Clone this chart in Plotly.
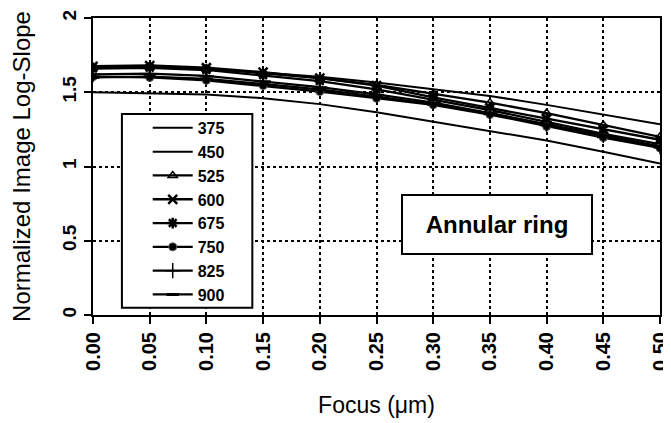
import plotly.graph_objects as go

focus = [0.00, 0.05, 0.10, 0.15, 0.20, 0.25, 0.30, 0.35, 0.40, 0.45, 0.50]
tick_labels = ["0.00", "0.05", "0.10", "0.15", "0.20", "0.25", "0.30", "0.35", "0.40", "0.45", "0.50"]

s375 = [1.50, 1.495, 1.485, 1.46, 1.42, 1.365, 1.30, 1.24, 1.175, 1.10, 1.02]
s450 = [1.665, 1.67, 1.66, 1.635, 1.605, 1.565, 1.52, 1.475, 1.415, 1.35, 1.285]
s525 = [1.67, 1.675, 1.66, 1.63, 1.595, 1.55, 1.49, 1.43, 1.36, 1.28, 1.20]
s600 = [1.675, 1.68, 1.665, 1.635, 1.595, 1.545, 1.465, 1.395, 1.32, 1.25, 1.18]
s675 = [1.66, 1.665, 1.65, 1.615, 1.575, 1.52, 1.45, 1.38, 1.30, 1.22, 1.15]
s750 = [1.605, 1.60, 1.58, 1.545, 1.505, 1.46, 1.415, 1.35, 1.27, 1.195, 1.125]
s825 = [1.62, 1.625, 1.61, 1.575, 1.535, 1.485, 1.43, 1.36, 1.285, 1.21, 1.135]
s900 = [1.60, 1.605, 1.59, 1.555, 1.52, 1.47, 1.42, 1.355, 1.28, 1.20, 1.13]

series = [
    ("375", s375, None),
    ("450", s450, None),
    ("525", s525, dict(symbol="triangle-up-open", size=8, line=dict(width=1.5, color="black"))),
    ("600", s600, dict(symbol="x-thin", size=9, line=dict(width=2.5, color="black"))),
    ("675", s675, dict(symbol="asterisk", size=9, line=dict(width=2.5, color="black"))),
    ("750", s750, dict(symbol="circle", size=8, color="black", line=dict(width=1, color="#555"))),
    ("825", s825, dict(symbol="cross-thin", size=11, line=dict(width=1.5, color="black"))),
    ("900", s900, dict(symbol="line-ew", size=9, line=dict(width=3, color="black"))),
]

FONT = "Arial, Liberation Sans, sans-serif"

fig = go.Figure()
for name, vals, mk in series:
    if mk is None:
        fig.add_trace(go.Scatter(x=focus, y=vals, name=f"<b>{name}</b>", mode="lines",
                                 line=dict(color="black", width=2)))
    else:
        fig.add_trace(go.Scatter(x=focus, y=vals, name=f"<b>{name}</b>", mode="lines+markers",
                                 line=dict(color="black", width=2.3), marker=mk))

# page body adds an 8px offset, so the figure is 8px smaller and margins shifted
fig.update_layout(
    width=663, height=415,
    paper_bgcolor="white", plot_bgcolor="white",
    margin=dict(l=85, r=11, t=10, b=108),
    font=dict(family=FONT, color="black"),
    showlegend=True,
    legend=dict(
        x=0.0965, y=0.687, xanchor="left", yanchor="top",
        bgcolor="rgba(0,0,0,0)", borderwidth=0,
        font=dict(family=FONT, size=16, color="black"),
        tracegroupgap=0, itemwidth=40,
    ),
    shapes=[dict(
        type="rect", xref="paper", yref="paper",
        x0=0.051, x1=0.281, y0=0.024, y1=0.677,
        line=dict(color="black", width=2), fillcolor="white", layer="above",
    )],
    annotations=[dict(
        text="<b>Annular ring</b>", x=0.712, y=0.305, xref="paper", yref="paper",
        xanchor="center", yanchor="middle",
        showarrow=False, font=dict(family=FONT, size=24, color="black"),
        bgcolor="white", bordercolor="black", borderwidth=2, borderpad=0,
        width=188, height=57,
    )],
)

fig.update_xaxes(
    range=[0, 0.5], tickvals=focus, ticktext=[f"<b>{t}</b>" for t in tick_labels],
    tickangle=-90, tickfont=dict(family=FONT, size=20),
    ticks="outside", ticklen=7, tickwidth=1.5, tickcolor="black",
    showline=True, linecolor="black", linewidth=2, mirror=True,
    showgrid=True, gridcolor="black", griddash="dot", gridwidth=1.5,
    zeroline=False, automargin=False, ticklabeloverflow="allow",
    title=dict(text="Focus (μm)", font=dict(family=FONT, size=23), standoff=27),
)
fig.update_yaxes(
    range=[0, 2], tickvals=[0, 0.5, 1, 1.5, 2], ticktext=["<b>0</b>", "<b>0.5</b>", "<b>1</b>", "<b>1.5</b>", "<b>2</b>"],
    tickangle=-90, tickfont=dict(family=FONT, size=19),
    ticks="outside", ticklen=7, tickwidth=1.5, tickcolor="black",
    showline=True, linecolor="black", linewidth=2, mirror=True,
    showgrid=True, gridcolor="black", griddash="dot", gridwidth=1.5,
    zeroline=False, automargin=False, ticklabeloverflow="allow",
    title=dict(text="Normalized Image Log-Slope", font=dict(family=FONT, size=24), standoff=25),
)

fig.write_html("out.html")
